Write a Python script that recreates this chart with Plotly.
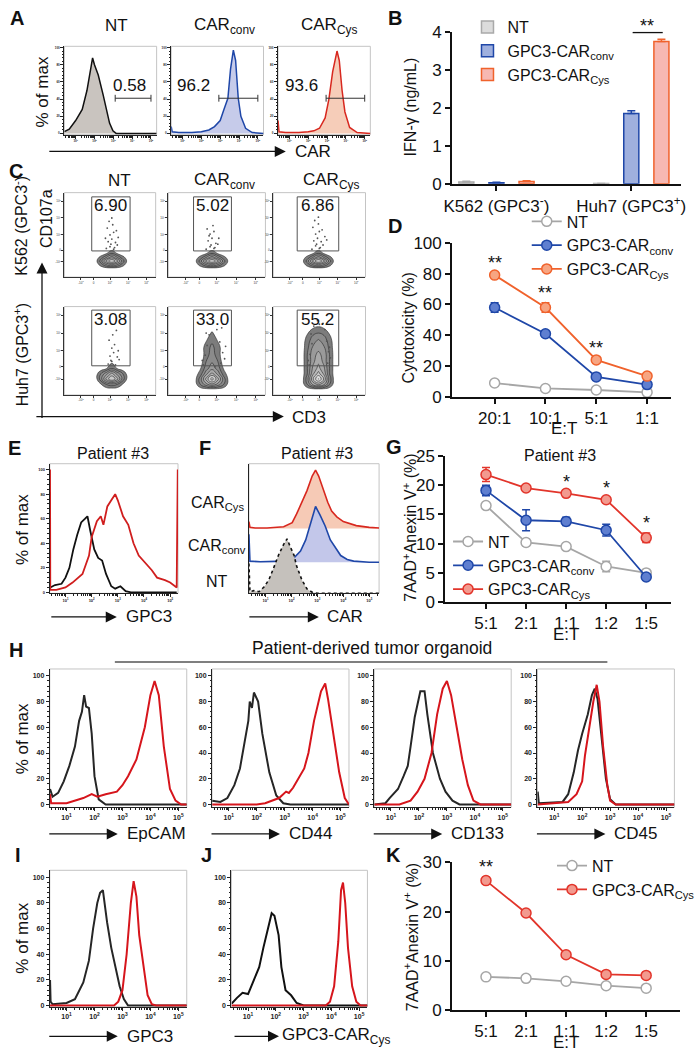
import math
import plotly.graph_objects as go

W, H = 700, 1062
FONT = "Liberation Sans, Arial, Helvetica, sans-serif"

# ======================= DATA =======================
# Panel A: CAR expression histograms (x = log10 intensity, y = % of max)
A_NT_X = [0.40, 0.66, 1.00, 1.35, 1.60, 1.78, 1.90, 2.00, 2.20, 2.46, 2.63, 2.80, 2.98, 3.15, 5.30]
A_NT_Y = [2, 5, 15, 28, 50, 75, 88, 80, 68, 45, 30, 12, 3, 0, 0]
A_CONV_X = [0.40, 0.45, 0.80, 1.50, 2.00, 2.40, 2.70, 3.00, 3.20, 3.41, 3.55, 3.70, 3.82, 3.96, 4.10, 4.35, 4.70, 5.30]
A_CONV_Y = [8, 2, 1, 1, 2, 4, 8, 15, 28, 41, 75, 97, 85, 41, 20, 6, 1, 0]
A_CYS_X = [0.40, 0.45, 0.80, 1.50, 2.00, 2.30, 2.60, 2.90, 3.10, 3.30, 3.53, 3.65, 3.80, 3.95, 4.20, 4.60, 5.30]
A_CYS_Y = [15, 2, 1, 1, 2, 3, 6, 18, 40, 72, 96, 85, 50, 25, 7, 1, 0]
A_GATE_X = [[3.10, 5.00], [2.93, 5.00], [2.95, 5.00]]
A_GATE_Y = 41
A_PCT = ["0.58", "96.2", "93.6"]
A_PCT_X = [3.84, 1.60, 1.66]
A_PCT_Y = 56
A_TITLES = ["NT", "CAR<sub>conv</sub>", "CAR<sub>Cys</sub>"]

# Panel B: IFN-gamma (ng/mL)
B_CATS = ["K562 (GPC3<sup>-</sup>)", "Huh7 (GPC3<sup>+</sup>)"]
B_NT = [0.05, 0.01]
B_NT_ERR = [0.02, 0.0]
B_CONV = [0.03, 1.85]
B_CONV_ERR = [0.01, 0.07]
B_CYS = [0.06, 3.74]
B_CYS_ERR = [0.02, 0.06]

# Panel C: CD107a vs CD3 contour density grids (display units 0-10)
C_COL_TITLES = ["NT", "CAR<sub>conv</sub>", "CAR<sub>Cys</sub>"]
C_PCT = [["6.90", "5.02", "6.86"], ["3.08", "33.0", "55.2"]]
C_GATE_X = [[3.0, 7.2], [2.6, 6.5], [2.6, 7.1]]
C_GATE_Y = [[3.1, 9.5], [3.3, 9.6]]
C_XGRID = [[3.4, 4.0, 4.6, 5.2, 5.8, 6.4, 7.0],
           [2.7, 3.3, 3.9, 4.5, 5.1, 5.7, 6.3],
           [3.1, 3.7, 4.3, 4.9, 5.5, 6.1, 6.7]]
C_YGRID_TOP = [1.0, 1.5, 1.9, 2.3, 2.8, 3.3]
C_Z_TOP = [[0, 0, 0, 0, 0, 0, 0],
           [0, 2, 5, 7, 5, 2, 0],
           [0, 4, 9, 12, 9, 4, 0],
           [0, 2, 5, 8, 5, 2, 0],
           [0, 0, 1, 3, 1, 0, 0],
           [0, 0, 0, 0.5, 0, 0, 0]]
C_YGRID_BOT = [0.6, 1.2, 1.8, 2.4, 3.0, 3.8, 4.6, 5.4, 6.2, 7.0, 7.8]
C_Z_BOT_NT = [[0, 0, 0, 0, 0, 0, 0],
              [0, 1, 3, 4, 3, 1, 0],
              [0, 4, 9, 12, 9, 4, 0],
              [0, 3, 6, 9, 6, 3, 0],
              [0, 0, 1, 3, 1, 0, 0],
              [0, 0, 0, 0.5, 0, 0, 0],
              [0, 0, 0, 0, 0, 0, 0],
              [0, 0, 0, 0, 0, 0, 0],
              [0, 0, 0, 0, 0, 0, 0],
              [0, 0, 0, 0, 0, 0, 0],
              [0, 0, 0, 0, 0, 0, 0]]
C_Z_BOT_CONV = [[0, 0, 0, 0, 0, 0, 0],
                [0, 3, 6, 8, 6, 3, 0],
                [0, 4, 9, 13, 9, 4, 0],
                [0, 2, 6, 9, 6, 2, 0],
                [0, 1, 4, 6, 4, 1, 0],
                [0, 0, 3, 4.5, 3, 0, 0],
                [0, 0, 2, 4, 2, 0, 0],
                [0, 0, 2, 3.5, 2, 0, 0],
                [0, 0, 1, 2.5, 1, 0, 0],
                [0, 0, 0, 1.5, 0, 0, 0],
                [0, 0, 0, 0, 0, 0, 0]]
C_Z_BOT_CYS = [[0, 0, 0, 0, 0, 0, 0],
               [0, 3, 7, 9, 7, 3, 0],
               [0, 4, 10, 14, 10, 4, 0],
               [0, 3, 8, 11, 8, 3, 0],
               [0, 3, 7, 9, 7, 3, 0],
               [0, 3, 6, 8, 6, 3, 0],
               [0, 3, 6, 7, 6, 3, 0],
               [0, 2.5, 5, 6, 5, 2.5, 0],
               [0, 2, 4, 5, 4, 2, 0],
               [0, 1, 2.5, 3, 2.5, 1, 0],
               [0, 0, 0.5, 1, 0.5, 0, 0]]
# sparse events above the main population (row-major: K562 NT/conv/Cys, Huh7 NT/conv/Cys)
C_DOTS_X = [
    [4.6, 5.0, 5.4, 5.8, 4.8, 5.2, 5.6, 5.0, 5.4, 4.7, 5.9, 5.3, 5.1, 5.5, 4.9, 5.7, 5.2, 4.5],
    [3.9, 4.3, 4.7, 5.1, 4.1, 4.5, 4.9, 4.3, 4.7, 4.0, 5.2, 4.6, 4.4, 4.8, 4.2],
    [4.2, 4.6, 5.0, 5.4, 4.4, 4.8, 5.2, 4.6, 5.0, 4.3, 5.6, 4.9, 4.7, 5.1, 4.5, 5.3, 4.9, 5.8],
    [4.8, 5.2, 5.6, 6.0, 5.0, 5.4, 5.8, 5.2, 5.5, 4.9, 5.9, 5.3, 5.1, 5.7],
    [3.6, 5.4, 3.8, 5.6, 4.0, 5.3, 5.8, 3.5, 5.0, 4.2, 5.9, 3.9, 5.5, 4.6, 4.8],
    [3.9, 5.9, 4.0, 6.0, 4.2, 5.8, 6.2, 3.8, 5.6, 4.1, 6.1, 4.4, 5.4, 4.8, 5.0],
]
C_DOTS_Y = [
    [3.4, 3.6, 3.3, 3.8, 4.2, 4.5, 4.1, 5.0, 5.3, 5.8, 4.7, 6.2, 3.9, 3.5, 6.6, 5.5, 7.0, 4.6],
    [3.3, 3.6, 3.4, 3.9, 4.3, 4.6, 4.0, 5.1, 5.4, 5.7, 4.6, 6.1, 3.8, 3.5, 4.9],
    [3.3, 3.7, 3.4, 3.8, 4.3, 4.6, 4.2, 5.1, 5.4, 5.9, 4.8, 6.3, 3.9, 3.5, 6.7, 5.6, 7.1, 4.4],
    [3.5, 3.8, 3.4, 4.0, 4.4, 4.8, 4.3, 5.3, 5.7, 6.2, 5.0, 6.8, 3.9, 7.3],
    [3.4, 3.6, 4.5, 4.8, 5.6, 6.0, 4.1, 3.9, 7.4, 6.8, 5.5, 7.0, 7.6, 8.2, 3.2],
    [3.4, 3.6, 4.6, 4.9, 5.8, 6.1, 4.2, 3.9, 7.4, 6.9, 5.4, 7.8, 8.1, 8.4, 8.0],
]

# Panel D: cytotoxicity (%)
D_CATS = ["20:1", "10:1", "5:1", "1:1"]
D_NT = [9.0, 5.5, 4.5, 3.0]
D_NT_ERR = [0.8, 0.6, 0.5, 0.5]
D_CONV = [58, 41, 13, 8]
D_CONV_ERR = [3.0, 1.5, 1.2, 1.5]
D_CYS = [79, 58, 24, 13.5]
D_CYS_ERR = [1.2, 3.0, 1.2, 1.5]
D_STARS = ["**", "**", "**", ""]

# Panel E: GPC3 histogram, patient #3
E_NEG_X = [0.42, 0.60, 0.85, 1.00, 1.15, 1.30, 1.45, 1.60, 1.75, 1.84, 1.95, 2.10, 2.25, 2.40, 2.55, 2.75, 2.90, 3.10, 3.30, 3.50, 5.25]
E_NEG_Y = [4, 6, 7, 12, 20, 35, 47, 57, 60, 62, 50, 35, 28, 26, 15, 5, 3, 5, 1, 0, 0]
E_POS_X = [0.41, 0.42, 0.65, 1.00, 1.27, 1.65, 1.90, 2.00, 2.20, 2.35, 2.45, 2.60, 2.75, 2.90, 3.00, 3.20, 3.40,
           3.60, 3.80, 4.00, 4.30, 4.50, 4.80, 5.00, 5.25, 5.29]
E_POS_Y = [100, 2, 2, 4, 8, 15, 30, 45, 58, 62, 55, 70, 75, 80, 75, 62, 55, 40, 30, 25, 18, 12, 10, 8, 4, 100]

# Panel F: CAR histograms (offset overlay), patient #3
F_CYS_X = [0.36, 0.40, 0.60, 1.06, 1.70, 2.03, 2.20, 2.40, 2.60, 2.80, 2.93, 3.05, 3.20, 3.40, 3.55, 3.75, 4.00, 4.50, 5.00, 5.38]
F_CYS_Y = [12, 2, 1, 1, 3, 10, 25, 45, 65, 90, 100, 90, 70, 45, 30, 20, 12, 5, 2, 1]
F_CONV_X = [0.36, 0.40, 0.80, 1.70, 2.10, 2.35, 2.55, 2.73, 2.93, 3.10, 3.30, 3.50, 3.70, 3.90, 4.15, 4.40, 5.00, 5.38]
F_CONV_Y = [50, 2, 1, 2, 8, 20, 40, 70, 100, 85, 65, 40, 25, 12, 5, 2, 0, 0]
F_NT_X = [0.36, 0.40, 0.55, 0.75, 0.95, 1.13, 1.30, 1.50, 1.70, 1.83, 1.96, 2.10, 2.20, 2.40, 2.60, 2.80, 3.00, 5.38]
F_NT_Y = [55, 3, 5, 3, 12, 25, 45, 70, 90, 100, 85, 70, 50, 25, 8, 2, 0, 0]
F_BASE = [50, 24, 0]
F_HEIGHT = [45, 43, 42]
F_LABELS = ["CAR<sub>Cys</sub>", "CAR<sub>conv</sub>", "NT"]

# Panel G: 7AAD+AnnexinV+ (%), patient #3
G_CATS = ["5:1", "2:1", "1:1", "1:2", "1:5"]
G_NT = [16.5, 10.2, 9.5, 6.1, 5.0]
G_NT_ERR = [0.3, 0.6, 0.3, 0.9, 0.3]
G_CONV = [19.1, 14.0, 13.8, 12.3, 4.3]
G_CONV_ERR = [0.9, 1.8, 0.7, 1.0, 0.2]
G_CYS = [21.8, 19.5, 18.6, 17.5, 11.0]
G_CYS_ERR = [1.2, 0.3, 0.3, 0.3, 0.8]
G_STARS = ["", "", "*", "*", "*"]

# Panel H: organoid marker histograms (black = control, red = stained)
H_MARKERS = ["EpCAM", "CD44", "CD133", "CD45"]
H_EPCAM_NEG_X = [0.41, 0.50, 0.70, 0.90, 1.10, 1.30, 1.45, 1.55, 1.63, 1.70, 1.80, 1.90, 2.00, 2.15, 2.40, 5.30]
H_EPCAM_NEG_Y = [12, 6, 9, 18, 30, 45, 65, 72, 85, 76, 75, 55, 22, 4, 0, 0]
H_EPCAM_POS_X = [0.41, 0.45, 1.00, 1.30, 1.60, 1.90, 2.10, 2.40, 2.80, 3.00, 3.20, 3.50, 3.80, 4.00, 4.15, 4.30, 4.48, 4.70, 4.90, 5.10, 5.30]
H_EPCAM_POS_Y = [8, 1, 1, 3, 5, 8, 6, 8, 10, 15, 22, 35, 60, 85, 96, 85, 45, 12, 3, 0, 0]
H_CD44_NEG_X = [0.41, 0.70, 0.95, 1.20, 1.40, 1.55, 1.70, 1.75, 1.83, 1.90, 2.05, 2.20, 2.45, 2.70, 2.95, 3.20, 5.30]
H_CD44_NEG_Y = [3, 2, 5, 15, 28, 45, 65, 80, 75, 87, 80, 55, 25, 7, 1, 0, 0]
H_CD44_POS_X = [0.41, 2.00, 2.30, 2.80, 3.05, 3.15, 3.30, 3.50, 3.70, 3.85, 4.05, 4.30, 4.45, 4.55, 4.75, 4.95, 5.15, 5.30]
H_CD44_POS_Y = [0, 0, 1, 5, 10, 9, 13, 20, 28, 40, 65, 88, 94, 82, 55, 25, 5, 0]
H_CD133_NEG_X = [0.41, 0.80, 0.95, 1.25, 1.45, 1.60, 1.70, 1.85, 2.05, 2.20, 2.30, 2.50, 2.75, 2.95, 3.20, 3.45, 5.30]
H_CD133_NEG_Y = [0, 1, 5, 12, 22, 30, 45, 68, 88, 88, 70, 40, 20, 10, 3, 0, 0]
H_CD133_POS_X = [0.41, 1.30, 1.70, 1.95, 2.20, 2.45, 2.65, 2.85, 3.00, 3.15, 3.35, 3.55, 3.75, 3.95, 4.20, 5.30]
H_CD133_POS_Y = [0, 0, 3, 10, 20, 40, 70, 90, 96, 85, 60, 35, 15, 3, 0, 0]
H_CD45_NEG_X = [0.41, 0.45, 1.30, 1.50, 1.70, 1.85, 2.00, 2.20, 2.35, 2.45, 2.55, 2.70, 2.85, 3.00, 3.20, 5.30]
H_CD45_NEG_Y = [10, 1, 2, 8, 25, 42, 55, 70, 85, 90, 82, 50, 20, 4, 0, 0]
H_CD45_POS_X = [0.41, 1.50, 1.80, 2.00, 2.10, 2.25, 2.40, 2.52, 2.62, 2.75, 2.90, 3.00, 3.20, 5.30]
H_CD45_POS_Y = [0, 2, 8, 18, 38, 60, 80, 93, 80, 45, 15, 3, 0, 0]

# Panel I: GPC3 on organoid
I_NEG_X = [0.41, 0.43, 0.50, 1.00, 1.30, 1.60, 1.80, 1.95, 2.10, 2.20, 2.30, 2.45, 2.60, 2.75, 2.90, 3.05, 3.20, 5.30]
I_NEG_Y = [20, 3, 1, 2, 5, 18, 35, 60, 80, 88, 90, 65, 45, 30, 15, 5, 0, 0]
I_POS_X = [0.41, 2.70, 2.85, 3.00, 3.15, 3.30, 3.40, 3.50, 3.60, 3.75, 3.90, 4.05, 4.20, 5.30]
I_POS_Y = [0, 0, 3, 12, 40, 80, 97, 85, 55, 30, 8, 1, 0, 0]

# Panel J: GPC3-CARCys binding
J_NEG_X = [0.41, 0.43, 0.60, 0.80, 1.00, 1.20, 1.40, 1.55, 1.70, 1.85, 1.95, 2.10, 2.20, 2.35, 2.55, 2.75, 3.00, 5.30]
J_NEG_Y = [2, 2, 6, 10, 9, 20, 30, 45, 58, 72, 70, 55, 30, 12, 8, 2, 0, 0]
J_POS_X = [0.41, 3.80, 3.95, 4.10, 4.25, 4.35, 4.42, 4.50, 4.60, 4.75, 4.90, 5.05, 5.30]
J_POS_Y = [0, 0, 3, 15, 50, 90, 96, 80, 45, 15, 3, 0, 0]

# Panel K: 7AAD+AnnexinV+ (%) on organoid
K_CATS = ["5:1", "2:1", "1:1", "1:2", "1:5"]
K_NT = [6.7, 6.4, 5.8, 4.9, 4.4]
K_NT_ERR = [0.2, 0.2, 0.2, 0.2, 0.2]
K_CYS = [26.3, 19.7, 11.2, 7.2, 7.0]
K_CYS_ERR = [0.7, 0.3, 0.3, 0.3, 0.3]
K_STARS = ["**", "", "", "", ""]

# ======================= STYLE =======================
GREY, BLUE, ORANGE, RED = "#a6a6a6", "#1f47a8", "#f0622c", "#e2352b"
BLACK_H, RED_H = "#262626", "#d6151c"
DECADES = [1, 2, 3, 4, 5]
MINOR = [d + math.log10(k) for d in range(0, 6) for k in range(2, 10)]

fig = go.Figure()
L = dict(width=W, height=H, margin=dict(l=0, r=0, t=0, b=0), paper_bgcolor="white",
         plot_bgcolor="rgba(0,0,0,0)", font=dict(family=FONT, color="#111"), showlegend=True,
         bargap=0.33, bargroupgap=0.5)
ANN, SHP = [], []
_n = [0]


def P(px, py):
    return px / W, 1 - py / H


def new_axes(x0, x1, yt, yb, xkw, ykw):
    _n[0] += 1
    s = "" if _n[0] == 1 else str(_n[0])
    L["xaxis" + s] = dict(domain=[x0 / W, x1 / W], anchor="y" + s, **xkw)
    L["yaxis" + s] = dict(domain=[1 - yb / H, 1 - yt / H], anchor="x" + s, **ykw)
    return "x" + s, "y" + s


def text(t, px, py, size=16, xanchor="center", yanchor="middle", angle=0, bold=False):
    x, y = P(px, py)
    ANN.append(dict(text=f"<b>{t}</b>" if bold else t, x=x, y=y, xref="paper", yref="paper",
                    showarrow=False, xanchor=xanchor, yanchor=yanchor, textangle=angle,
                    font=dict(size=size, family=FONT, color="#111")))


def arrow(x0, y0, x1, y1):
    x, y = P(x1, y1)
    ANN.append(dict(text="", x=x, y=y, ax=x0 - x1, ay=y0 - y1, xref="paper", yref="paper",
                    axref="pixel", ayref="pixel", showarrow=True, arrowhead=2, arrowsize=1.7,
                    arrowwidth=1.3, arrowcolor="#111"))


def flow_axes(x0, x1, yt, yb, xr, yr, tfs=6, labels=True):
    tf = dict(size=tfs, family=FONT, color="#222", weight="bold")
    xkw = dict(range=list(xr), showgrid=False, zeroline=False, showline=True, linecolor="#222",
               linewidth=1, tickmode="array", tickvals=DECADES,
               ticktext=[f"10<sup>{d}</sup>" for d in DECADES], ticks="outside", ticklen=3,
               tickcolor="#222", showticklabels=labels, tickfont=tf,
               minor=dict(tickvals=[m for m in MINOR if xr[0] < m < xr[1]], ticks="outside",
                          ticklen=2, tickcolor="#222"))
    ykw = dict(range=list(yr), showgrid=False, zeroline=False, showline=True, linecolor="#222",
               linewidth=1, tickmode="array", tickvals=[0, 20, 40, 60, 80, 100], ticks="outside",
               ticklen=3, tickcolor="#222", showticklabels=labels, tickfont=tf,
               minor=dict(tickvals=[v for v in range(0, 101, 4)], ticks="outside", ticklen=1.5,
                          tickcolor="#222"))
    xa, ya = new_axes(x0, x1, yt, yb, xkw, ykw)
    SHP.append(dict(type="rect", xref=xa + " domain", yref=ya + " domain", x0=0, x1=1, y0=0, y1=1,
                    line=dict(color="#c4c4c4", width=1), layer="below"))
    return xa, ya


def line(xa, ya, x, y, color, width=1.8, fill=None, fillcolor=None, dash=None):
    fig.add_trace(go.Scatter(x=x, y=y, xaxis=xa, yaxis=ya, mode="lines",
                             line=dict(color=color, width=width, dash=dash), fill=fill,
                             fillcolor=fillcolor, showlegend=False, hoverinfo="skip"))


def cat_axes(x0, x1, yt, yb, cats, xr, yr, yticks, tfs=17):
    common = dict(showgrid=False, zeroline=False, showline=True, linecolor="#111", linewidth=1.5,
                  ticks="outside", ticklen=5, tickwidth=1.5, tickcolor="#111",
                  tickfont=dict(size=tfs, family=FONT, color="#111"))
    xkw = dict(type="category", categoryorder="array", categoryarray=cats, range=list(xr), **common)
    ykw = dict(range=list(yr), tickvals=yticks, **common)
    return new_axes(x0, x1, yt, yb, xkw, ykw)


def legend_box(name, x, ytop):
    L[name] = dict(x=x / W, y=P(0, ytop)[1], xanchor="left", yanchor="top",
                   bgcolor="rgba(0,0,0,0)", font=dict(size=16, family=FONT), itemwidth=30,
                   tracegroupgap=0)


# ======================= PANEL A =======================
A_BOXES = [(58, 153), (168, 263), (278, 373)]
A_SERIES = [(A_NT_X, A_NT_Y, "#111111", "#c9c4bf"), (A_CONV_X, A_CONV_Y, BLUE, "#c6cbea"),
            (A_CYS_X, A_CYS_Y, "#d8281f", "#f6cdb9")]
A_TITLE_X = [112, 223, 330]
for i, (bx0, bx1) in enumerate(A_BOXES):
    xa, ya = flow_axes(bx0, bx1, 38, 128, (0.4, 5.3), (-1.5, 101.5), tfs=3)
    sx, sy, lc, fc = A_SERIES[i]
    line(xa, ya, sx, sy, lc, 1.5, fill="tozeroy", fillcolor=fc)
    gx0, gx1 = A_GATE_X[i]
    SHP.append(dict(type="line", xref=xa, yref=ya, x0=gx0, x1=gx1, y0=A_GATE_Y, y1=A_GATE_Y,
                    line=dict(color="#333", width=1)))
    for gx in (gx0, gx1):
        SHP.append(dict(type="line", xref=xa, yref=ya, x0=gx, x1=gx, y0=A_GATE_Y - 4,
                        y1=A_GATE_Y + 4, line=dict(color="#333", width=1)))
    ANN.append(dict(text=A_PCT[i], x=A_PCT_X[i], y=A_PCT_Y, xref=xa, yref=ya, showarrow=False,
                    font=dict(size=17, family=FONT, color="#111")))
    text(A_TITLES[i], A_TITLE_X[i], 17, 17)
text("% of max", 35, 85, 17, angle=-90)
arrow(48, 145, 286, 145)
text("CAR", 293, 145, 17, xanchor="left")

# ======================= PANEL B =======================
xa, ya = cat_axes(457, 693, 23, 178, B_CATS, (-0.33, 1.37), (0, 4), [0, 1, 2, 3, 4])
L["xaxis" + xa[1:]]["ticklabelstandoff"] = 1
for name, vals, err, fc, lc in [("NT", B_NT, B_NT_ERR, "#dcdcdc", "#a9a9a9"),
                                ("GPC3-CAR<sub>conv</sub>", B_CONV, B_CONV_ERR, "#9fb0de", BLUE),
                                ("GPC3-CAR<sub>Cys</sub>", B_CYS, B_CYS_ERR, "#f7b8b2", ORANGE)]:
    fig.add_trace(go.Bar(x=B_CATS, y=vals, name=name, xaxis=xa, yaxis=ya, legend="legend",
                         marker=dict(color=fc, line=dict(color=lc, width=1.5)),
                         error_y=dict(type="data", array=err, arrayminus=[0] * len(err),
                                      symmetric=False, color=lc, thickness=1.5, width=4)))
text("IFN-γ (ng/mL)", 414, 100, 16, angle=-90)
SHP.append(dict(type="line", xref="paper", yref="paper", x0=643 / W, x1=674 / W, y0=P(0, 24)[1],
                y1=P(0, 24)[1], line=dict(color="#111", width=1.3)))
text("**", 658, 17, 18)
legend_box("legend", 473, 1)

# ======================= PANEL C =======================
C_BOXES = [(58, 152), (165, 265), (273, 368)]
C_ROWS = [(187, 273), (303, 393)]
C_TV = [1.8, 3.2, 5.0, 7.0, 9.0]
C_TT = ["-10<sup>3</sup>", "0", "10<sup>3</sup>", "10<sup>4</sup>", "10<sup>5</sup>"]
C_Z_BOT = [C_Z_BOT_NT, C_Z_BOT_CONV, C_Z_BOT_CYS]
for r, (yt, yb) in enumerate(C_ROWS):
    for c, (bx0, bx1) in enumerate(C_BOXES):
        tf = dict(size=3, family=FONT, color="#333")
        kw = dict(range=[0, 10], showgrid=False, zeroline=False, showline=True, linecolor="#333",
                  linewidth=0.8, tickmode="array", tickvals=C_TV, ticktext=C_TT, ticks="outside",
                  ticklen=2, tickcolor="#333", tickfont=tf)
        xa, ya = new_axes(bx0, bx1, yt, yb, dict(kw), dict(kw))
        SHP.append(dict(type="rect", xref=xa + " domain", yref=ya + " domain", x0=0, x1=1, y0=0,
                        y1=1, line=dict(color="#c4c4c4", width=1), layer="below"))
        k = r * 3 + c
        fig.add_trace(go.Scatter(x=C_DOTS_X[k], y=C_DOTS_Y[k], xaxis=xa, yaxis=ya, mode="markers",
                                 marker=dict(size=1.8, color="#555"), showlegend=False,
                                 hoverinfo="skip"))
        if r == 0:
            yg, z = C_YGRID_TOP, C_Z_TOP
        else:
            yg, z = C_YGRID_BOT, C_Z_BOT[c]
        fig.add_trace(go.Contour(x=C_XGRID[c], y=yg, z=z, xaxis=xa, yaxis=ya, showscale=False,
                                 contours=dict(coloring="fill", start=1.2, end=15, size=1.8),
                                 colorscale=[[0, "rgba(255,255,255,0)"], [0.08, "#777777"],
                                             [0.5, "#a9a9a9"], [1, "#ebebeb"]],
                                 line=dict(color="#262626", width=0.6, smoothing=1.3),
                                 hoverinfo="skip"))
        gx0, gx1 = C_GATE_X[c]
        gy0, gy1 = C_GATE_Y[r]
        SHP.append(dict(type="rect", xref=xa, yref=ya, x0=gx0, x1=gx1, y0=gy0, y1=gy1,
                        line=dict(color="#555", width=1)))
        ANN.append(dict(text=C_PCT[r][c], x=(gx0 + gx1) / 2, y=8.5, xref=xa, yref=ya,
                        showarrow=False, font=dict(size=17, family=FONT, color="#111")))
for t, x in zip(C_COL_TITLES, [115, 223, 332]):
    text(t, x, 175, 17)
text("K562 (GPC3<sup>-</sup>)", 13, 221, 16, angle=-90)
text("Huh7 (GPC3<sup>+</sup>)", 13, 352, 16, angle=-90)
text("CD107a", 39, 213, 16, angle=-90)
arrow(35, 415, 35, 258)
arrow(35, 415, 284, 415)
text("CD3", 290, 416, 17, xanchor="left")

# ======================= PANEL D =======================
xa, ya = cat_axes(457, 683, 238, 395, D_CATS, (-0.84, 3.48), (0, 100), [0, 20, 40, 60, 80, 100])
for name, vals, err, lc, fc in [("NT", D_NT, D_NT_ERR, GREY, "white"),
                                ("GPC3-CAR<sub>conv</sub>", D_CONV, D_CONV_ERR, BLUE, "#5f7fd0"),
                                ("GPC3-CAR<sub>Cys</sub>", D_CYS, D_CYS_ERR, ORANGE, "#f7a582")]:
    fig.add_trace(go.Scatter(x=D_CATS, y=vals, name=name, xaxis=xa, yaxis=ya, legend="legend2",
                             mode="lines+markers", line=dict(color=lc, width=1.8),
                             marker=dict(size=10, color=fc, line=dict(color=lc, width=1.5)),
                             error_y=dict(type="data", array=err, color=lc, thickness=1.5, width=4)))
for cat, v, e, s in zip(D_CATS, D_CYS, D_CYS_ERR, D_STARS):
    if s:
        ANN.append(dict(text=s, x=cat, y=v + e, xref=xa, yref=ya, showarrow=False, yanchor="bottom",
                        yshift=-2, font=dict(size=18, family=FONT, color="#111")))
text("Cytotoxicity (%)", 412, 325, 16, angle=-90)
text("E:T", 572, 427, 17)
legend_box("legend2", 534, 199)

# ======================= PANEL E =======================
xa, ya = flow_axes(43, 175, 463, 595, (0.4, 5.3), (-0.8, 104.8), tfs=4)
line(xa, ya, E_NEG_X, E_NEG_Y, "#111", 1.8)
line(xa, ya, E_POS_X, E_POS_Y, "#d01e1e", 1.8)
text("Patient #3", 108, 453, 16)
text("% of max", 15, 530, 17, angle=-90)
arrow(45, 619, 112, 619)
text("GPC3", 119, 619, 17, xanchor="left")

# ======================= PANEL F =======================
xa, ya = flow_axes(248, 382, 463, 595, (0.36, 5.38), (0, 100), tfs=4)
L["yaxis" + xa[1:]]["showticklabels"] = False
L["yaxis" + xa[1:]]["ticks"] = ""
L["yaxis" + xa[1:]]["minor"] = dict(ticks="")
for (fx, fy, lc, fc, dash), base, h in zip(
        [(F_CYS_X, F_CYS_Y, "#d8281f", "#f6cab6", None), (F_CONV_X, F_CONV_Y, BLUE, "#c3c7ea", None),
         (F_NT_X, F_NT_Y, "#111", "#c5c1bc", "dot")], F_BASE, F_HEIGHT):
    yy = [base + h * v / 100 for v in fy]
    px = list(fx) + [fx[-1], fx[0]]
    py = yy + [base, base]
    fig.add_trace(go.Scatter(x=px, y=py, xaxis=xa, yaxis=ya, mode="lines", fill="toself",
                             fillcolor=fc, line=dict(width=0), showlegend=False, hoverinfo="skip"))
    line(xa, ya, fx, yy, lc, 1.6, dash=dash)
text("Patient #3", 318, 453, 16)
text(F_LABELS[0], 245, 503, 16, xanchor="right")
text(F_LABELS[1], 247, 547, 16, xanchor="right")
text(F_LABELS[2], 215, 583, 16)
arrow(249, 619, 320, 619)
text("CAR", 326, 619, 17, xanchor="left")

# ======================= PANEL G =======================
xa, ya = cat_axes(450, 683, 455, 604, G_CATS, (-1.02, 4.63), (0, 25), [0, 5, 10, 15, 20, 25])
for name, vals, err, lc, fc in [("NT", G_NT, G_NT_ERR, GREY, "white"),
                                ("GPC3-CAR<sub>conv</sub>", G_CONV, G_CONV_ERR, BLUE, "#5f7fd0"),
                                ("GPC3-CAR<sub>Cys</sub>", G_CYS, G_CYS_ERR, RED, "#f29a8f")]:
    fig.add_trace(go.Scatter(x=G_CATS, y=vals, name=name, xaxis=xa, yaxis=ya, legend="legend3",
                             mode="lines+markers", line=dict(color=lc, width=1.8),
                             marker=dict(size=10, color=fc, line=dict(color=lc, width=1.5)),
                             error_y=dict(type="data", array=err, color=lc, thickness=1.5, width=4)))
for cat, v, e, s in zip(G_CATS, G_CYS, G_CYS_ERR, G_STARS):
    if s:
        ANN.append(dict(text=s, x=cat, y=v + e, xref=xa, yref=ya, showarrow=False, yanchor="bottom",
                        yshift=-2, font=dict(size=18, family=FONT, color="#111")))
text("Patient #3", 568, 455, 16)
text("7AAD<sup>+</sup>Anexin V<sup>+</sup> (%)", 413, 528, 16, angle=-90)
text("E:T", 574, 637, 17)
legend_box("legend3", 453, 525)

# ======================= PANEL H =======================
H_BOXES = [(43, 184), (210, 351), (377, 518), (545, 686)]
H_SERIES = [(H_EPCAM_NEG_X, H_EPCAM_NEG_Y, H_EPCAM_POS_X, H_EPCAM_POS_Y),
            (H_CD44_NEG_X, H_CD44_NEG_Y, H_CD44_POS_X, H_CD44_POS_Y),
            (H_CD133_NEG_X, H_CD133_NEG_Y, H_CD133_POS_X, H_CD133_POS_Y),
            (H_CD45_NEG_X, H_CD45_NEG_Y, H_CD45_POS_X, H_CD45_POS_Y)]
for (bx0, bx1), (nx, ny, qx, qy), mk in zip(H_BOXES, H_SERIES, H_MARKERS):
    xa, ya = flow_axes(bx0, bx1, 672, 813, (0.4, 5.3), (-2.3, 105.3), tfs=7)
    line(xa, ya, nx, ny, BLACK_H, 2)
    line(xa, ya, qx, qy, RED_H, 2)
    arrow(bx0, 840, bx0 + 70, 840)
    text(mk, bx0 + 77, 840, 17, xanchor="left")
text("Patient-derived tumor organoid", 375, 651, 17.5)
SHP.append(dict(type="line", xref="paper", yref="paper", x0=110 / W, x1=617 / W, y0=P(0, 665)[1],
                y1=P(0, 665)[1], line=dict(color="#555", width=1.5)))
text("% of max", 15, 743, 17, angle=-90)

# ======================= PANEL I / J =======================
xa, ya = flow_axes(43, 184, 877, 1016, (0.4, 5.3), (-1, 105.5), tfs=7)
line(xa, ya, I_NEG_X, I_NEG_Y, BLACK_H, 2)
line(xa, ya, I_POS_X, I_POS_Y, RED_H, 2)
arrow(43, 1046, 113, 1046)
text("GPC3", 120, 1046, 17, xanchor="left")
text("% of max", 15, 946, 17, angle=-90)

xa, ya = flow_axes(230, 370, 877, 1016, (0.4, 5.3), (-1, 105.5), tfs=7)
line(xa, ya, J_NEG_X, J_NEG_Y, "#111", 2)
line(xa, ya, J_POS_X, J_POS_Y, RED_H, 2)
arrow(233, 1046, 279, 1046)
text("GPC3-CAR<sub>Cys</sub>", 280, 1046, 17, xanchor="left")

# ======================= PANEL K =======================
xa, ya = cat_axes(457, 692, 869, 1019, K_CATS, (-0.85, 4.85), (0, 30), [0, 10, 20, 30])
for name, vals, err, lc, fc in [("NT", K_NT, K_NT_ERR, GREY, "white"),
                                ("GPC3-CAR<sub>Cys</sub>", K_CYS, K_CYS_ERR, RED, "#f29a8f")]:
    fig.add_trace(go.Scatter(x=K_CATS, y=vals, name=name, xaxis=xa, yaxis=ya, legend="legend4",
                             mode="lines+markers", line=dict(color=lc, width=1.8),
                             marker=dict(size=10, color=fc, line=dict(color=lc, width=1.5)),
                             error_y=dict(type="data", array=err, color=lc, thickness=1.5, width=4)))
for cat, v, e, s in zip(K_CATS, K_CYS, K_CYS_ERR, K_STARS):
    if s:
        ANN.append(dict(text=s, x=cat, y=v + e, xref=xa, yref=ya, showarrow=False, yanchor="bottom",
                        yshift=-2, font=dict(size=18, family=FONT, color="#111")))
text("7AAD<sup>+</sup>Anexin V<sup>+</sup> (%)", 415, 945, 16, angle=-90)
text("E:T", 574, 1052, 17)
legend_box("legend4", 560, 855)

# ======================= PANEL LETTERS =======================
for ch, x, y in [("A", 9, 9), ("B", 398, 9), ("C", 8, 165), ("D", 398, 221), ("E", 7, 447),
                 ("F", 203, 447), ("G", 397, 446), ("H", 8, 653), ("I", 10, 861), ("J", 204, 861),
                 ("K", 397, 861)]:
    text(ch, x, y, 20, bold=True)

L["annotations"] = ANN
L["shapes"] = SHP
fig.update_layout(**L)
fig.write_html("out.html", config={"displayModeBar": False},
               post_script="document.body.style.margin='0';")
